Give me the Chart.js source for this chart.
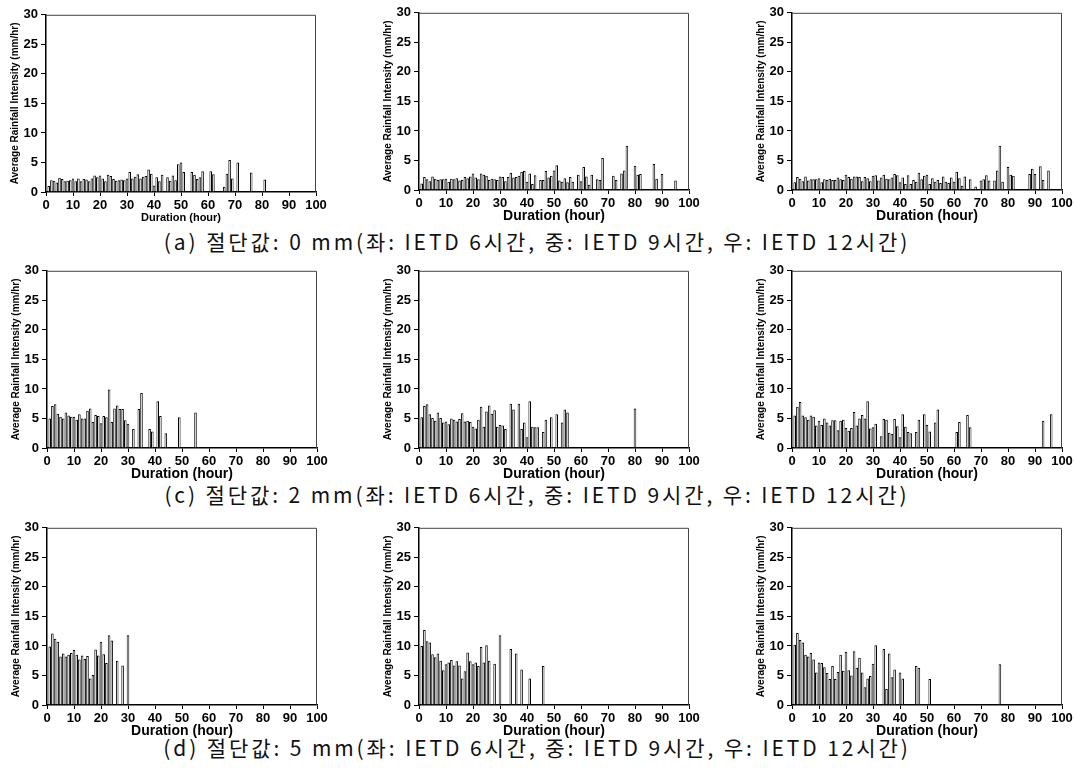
<!DOCTYPE html>
<html>
<head>
<meta charset="utf-8">
<script src="https://cdn.jsdelivr.net/npm/chart.js@4.4.0/dist/chart.umd.min.js"></script>
<style>
body { margin: 0; background: #fff; width: 1074px; height: 770px; position: relative; overflow: hidden; }
canvas { position: absolute; }
.cap { position: absolute; left: 0; width: 1074px; text-align: center; font-family: "Noto Sans CJK KR"; font-size: 21px; letter-spacing: 2.9px; line-height: 26px; color: #111; white-space: nowrap; }
</style>
</head>
<body>
<div class="cap" id="cap_a" style="top:228px">(a) 절단값: 0 mm(좌: IETD 6시간, 중: IETD 9시간, 우: IETD 12시간)</div>
<div class="cap" id="cap_c" style="top:481px">(c) 절단값: 2 mm(좌: IETD 6시간, 중: IETD 9시간, 우: IETD 12시간)</div>
<div class="cap" id="cap_d" style="top:734px">(d) 절단값: 5 mm(좌: IETD 6시간, 중: IETD 9시간, 우: IETD 12시간)</div>
<script>
// Average rainfall intensity (mm/hr) for each duration (hour), starting at hour 1.
// 0 = no event of that duration.

// Threshold 0 mm
var cut0_ietd6 = [1.0,2.0,1.9,1.6,2.4,2.2,1.8,1.9,2.0,2.3, 1.8,2.3,1.8,2.2,2.1,1.8,2.3,2.8,2.5,2.8,
	2.3,1.8,2.9,2.7,2.2,1.9,2.0,2.1,2.0,2.3, 3.4,2.3,2.6,3.0,2.3,2.6,2.7,3.8,3.1,1.1,
	2.5,1.8,2.9,0,2.5,1.9,2.8,2.0,4.7,5.0, 3.4,0,0,3.4,2.9,2.2,2.5,3.5,0,0,
	3.5,3.0,0,0,0,0.9,3.1,5.4,2.3,0, 5.0,0,0,0,0,3.3,0,0,0,0, 2.1];
var cut0_ietd9 = [1.1,2.2,1.8,1.5,2.3,1.9,1.7,1.8,1.8,1.9, 1.4,1.9,1.8,2.0,1.6,1.7,2.2,2.0,2.3,2.8,
	2.1,1.8,2.8,2.6,2.4,1.7,1.9,1.8,1.7,2.3, 2.2,1.5,2.2,2.9,2.1,2.2,2.4,3.1,3.2,1.4,
	2.8,1.0,2.5,0,1.7,1.7,3.2,2.1,2.4,3.3, 4.2,1.6,1.4,2.0,1.3,2.2,1.4,0,2.6,1.5,
	3.9,2.3,0.9,2.6,0,1.8,1.7,5.4,0,0, 0,2.4,1.7,0,2.8,3.3,7.5,0,0,4.1,
	2.6,2.7,0,0,0,0,4.4,1.9,0,2.7, 0,0,0,0,1.6];
var cut0_ietd12 = [1.3,2.2,1.9,1.5,2.3,1.6,1.8,1.8,1.8,2.0, 1.3,1.8,1.7,1.9,1.7,1.7,2.1,1.8,1.7,2.6,
	2.2,1.9,2.3,2.3,2.2,1.5,2.2,2.0,1.5,2.4, 2.5,1.6,2.1,2.6,1.9,1.8,2.1,2.7,2.5,1.3,
	2.1,1.0,2.5,1.0,1.7,1.4,2.9,1.8,2.4,2.6, 1.0,2.0,1.4,1.7,1.2,2.3,1.4,1.2,2.1,1.4,
	3.1,2.0,0.7,2.3,0,1.8,0,0.6,0,1.6, 1.8,2.5,1.6,0,1.6,3.3,7.5,1.4,0,3.9,
	2.6,2.4,0,0,0,0,0,2.7,3.6,2.7, 0,4.0,1.7,0,3.3];

// Threshold 2 mm
var cut2_ietd6 = [5.0,7.1,7.4,5.8,5.3,5.0,6.0,5.5,5.3,5.3, 4.8,5.7,5.0,5.0,6.3,6.7,4.4,5.6,5.4,4.2,
	5.4,5.2,9.9,4.4,6.7,7.2,6.6,6.6,4.7,4.1, 0,3.2,0,6.6,9.3,0,0,3.2,2.8,0,
	7.9,5.4,0,2.5,0,0,0,0,5.2,0, 0,0,0,0,6.0];
var cut2_ietd9 = [5.2,7.1,7.4,5.7,5.1,4.6,6.0,5.1,4.3,4.5, 4.0,5.0,4.8,4.5,4.9,5.9,4.5,4.6,4.4,3.6,
	3.3,4.8,7.0,3.6,6.2,7.2,5.8,6.4,3.6,3.9, 3.8,3.2,0,7.5,6.5,0,7.5,3.2,4.3,1.8,
	7.9,3.6,3.5,3.5,0,2.7,4.8,0,5.2,0, 5.7,0,4.3,6.5,6.0,0,0,0,0,0,
	0,0,0,0,0,0,0,0,0,0, 0,0,0,0,0,0,0,0,0,6.7];
var cut2_ietd12 = [5.5,7.0,7.8,5.5,5.2,4.8,5.5,5.3,3.8,4.6, 3.9,5.0,4.3,3.8,4.7,4.7,3.0,4.6,4.8,3.4,
	2.9,3.4,6.1,3.8,5.0,5.6,5.0,7.9,3.3,3.5, 4.1,0,2.0,4.9,4.8,2.6,2.4,4.9,3.7,1.8,
	5.7,3.6,2.7,2.5,0,2.7,4.8,0,5.7,3.9, 2.8,0,4.3,6.5,0,0,0,0,0,0,
	2.7,4.4,0,0,5.6,3.5,0,0,0,0, 0,0,0,0,0,0,0,0,0,0,
	0,0,0,0,0,0,0,0,0,0, 0,0,4.6,0,0,5.7];

// Threshold 5 mm
var cut5_ietd6 = [9.9,12.1,11.2,10.7,8.2,8.7,8.2,8.5,8.8,9.3, 8.5,7.7,8.4,7.8,8.3,4.5,5.1,9.4,8.4,10.7,
	8.6,7.1,11.8,10.9,0,7.5,0,6.7,0,11.8];
var cut5_ietd9 = [10.0,12.7,10.8,10.6,8.6,8.1,8.7,7.5,5.9,6.9, 7.2,7.6,6.7,7.4,6.7,4.5,5.7,8.9,7.4,6.9,
	7.2,6.6,9.8,7.2,10.1,7.5,0,7.0,0,11.8, 0,0,0,9.5,0,8.7,0,6.0,0,0,
	4.5,0,0,0,0,6.6];
var cut5_ietd12 = [10.2,12.2,11.0,10.6,8.5,8.2,8.8,7.7,5.5,7.2, 7.1,6.4,5.4,4.4,6.6,4.4,5.6,8.5,5.8,9.0,
	5.9,5.0,9.1,6.3,8.0,5.5,3.0,4.5,4.9,7.0, 10.1,0,0,9.5,2.7,8.7,4.7,6.0,0,5.5,
	4.5,0,0,0,0,6.6,6.3,0,0,0, 4.4,0,0,0,0,0,0,0,0,0,
	0,0,0,0,0,0,0,0,0,0, 0,0,0,0,0,0,6.9];

var xTitle = "Duration (hour)";
var yTitle = "Average Rainfall Intensity (mm/hr)";

// Panel placement: plot area left/top in page pixels
var panels = [
	{ data: cut0_ietd6,  left: 46,  top: 14,  xTitleSize: 11 },
	{ data: cut0_ietd9,  left: 419, top: 12,  xTitleSize: 14 },
	{ data: cut0_ietd12, left: 792, top: 12,  xTitleSize: 14 },
	{ data: cut2_ietd6,  left: 47,  top: 270, xTitleSize: 14 },
	{ data: cut2_ietd9,  left: 419, top: 270, xTitleSize: 14 },
	{ data: cut2_ietd12, left: 792, top: 270, xTitleSize: 14 },
	{ data: cut5_ietd6,  left: 47,  top: 527, xTitleSize: 14 },
	{ data: cut5_ietd9,  left: 419, top: 527, xTitleSize: 14 },
	{ data: cut5_ietd12, left: 792, top: 527, xTitleSize: 14 }
];

var Y_W = 46, PAD_T = 10, PAD_R = 14, PLOT_W = 270, PLOT_H = 178, X_H = 36;

// Top and right edges of the box
var framePlugin = {
	id: "frame",
	afterDraw: function(chart) {
		var a = chart.chartArea, ctx = chart.ctx;
		ctx.save();
		ctx.strokeStyle = "#444";
		ctx.lineWidth = 1;
		ctx.beginPath();
		ctx.moveTo(a.left, a.top + 0.5);
		ctx.lineTo(a.right - 0.5, a.top + 0.5);
		ctx.lineTo(a.right - 0.5, a.bottom);
		ctx.stroke();
		ctx.restore();
	}
};

function toPoints(values) {
	var pts = [];
	for (var i = 0; i < values.length; i++) {
		if (values[i] > 0) pts.push({ x: i + 1, y: values[i] });
	}
	return pts;
}

function makePanel(p) {
	var canvas = document.createElement("canvas");
	canvas.width = Y_W + PLOT_W + PAD_R;
	canvas.height = PAD_T + PLOT_H + X_H;
	canvas.style.left = (p.left - Y_W) + "px";
	canvas.style.top = (p.top - PAD_T) + "px";
	document.body.appendChild(canvas);

	var titleH = p.xTitleSize * 1.2;
	new Chart(canvas, {
		type: "bar",
		data: {
			datasets: [{
				data: toPoints(p.data),
				backgroundColor: "#fff",
				borderColor: "#000",
				borderWidth: 1,
				barPercentage: 0.95,
				categoryPercentage: 1.0
			}]
		},
		options: {
			responsive: false,
			animation: false,
			devicePixelRatio: 1,
			layout: { padding: { top: PAD_T, right: PAD_R, left: 0, bottom: 0 } },
			plugins: { legend: { display: false }, tooltip: { enabled: false } },
			scales: {
				x: {
					type: "linear",
					min: 0, max: 100,
					offset: false,
					ticks: {
						stepSize: 10, padding: 2, color: "#000",
						autoSkip: false, maxRotation: 0, minRotation: 0,
						font: { family: "Liberation Sans", size: 13, weight: "bold" }
					},
					grid: { display: true, drawOnChartArea: false, offset: false, tickLength: 4, tickColor: "#000" },
					border: { color: "#000", width: 1.5 },
					title: { display: true, text: xTitle, color: "#000", padding: { top: 0, bottom: 10 - titleH / 2 }, font: { family: "Liberation Sans", size: p.xTitleSize, weight: "bold" } },
					afterFit: function(scale) { scale.height = X_H; }
				},
				y: {
					min: 0, max: 30,
					ticks: {
						stepSize: 2.5, padding: 3, color: "#000",
						font: { family: "Liberation Sans", size: 13, weight: "bold" },
						callback: function(v) { return v % 5 === 0 ? v : ""; }
					},
					grid: { display: true, drawOnChartArea: false, tickLength: 5, tickColor: "#000" },
					border: { color: "#000", width: 1.5 },
					title: { display: true, text: yTitle, color: "#000", padding: { top: 9, bottom: 0 }, font: { family: "Liberation Sans", size: 10, weight: "bold" } },
					afterFit: function(scale) { scale.width = Y_W; }
				}
			}
		},
		plugins: [framePlugin]
	});
}

window.addEventListener("load", function() {
	for (var i = 0; i < panels.length; i++) {
		makePanel(panels[i]);
	}
});
</script>
</body>
</html>
